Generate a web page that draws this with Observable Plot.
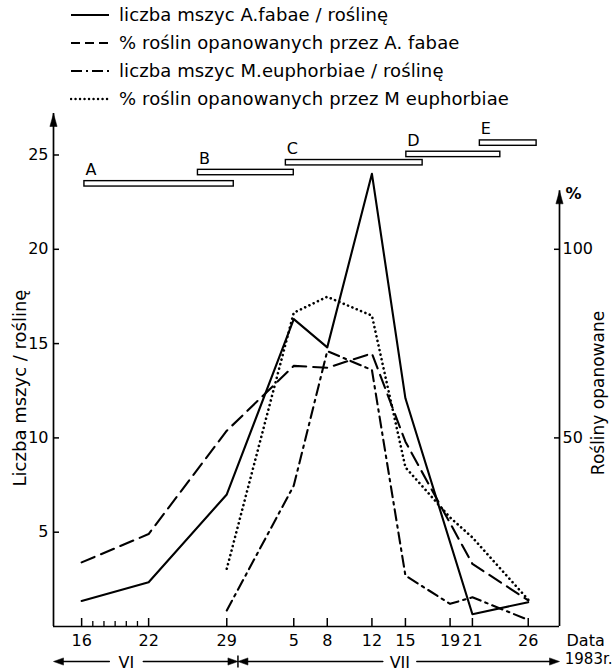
<!DOCTYPE html>
<html>
<head>
<meta charset="utf-8">
<script src="https://cdn.jsdelivr.net/npm/d3@7"></script>
<script src="https://cdn.jsdelivr.net/npm/@observablehq/plot@0.6"></script>
<style>
  html, body { margin: 0; padding: 0; background: #fff; }
  body { width: 615px; font-family: "DejaVu Sans", sans-serif; color: #000; }
  #legend { position: relative; height: 108px; }
  .row { position: absolute; left: 70px; display: flex; align-items: center; font-size: 18px; letter-spacing: 0.1px; white-space: nowrap; }
  .row svg { margin-right: 9px; }
</style>
</head>
<body>
<div id="legend"></div>
<div id="chart"></div>
<script>
// ---------------- data ----------------
const dates = ["1983-06-16","1983-06-22","1983-06-29","1983-07-05","1983-07-08","1983-07-12","1983-07-15","1983-07-19","1983-07-21","1983-07-26"];
const minorTickDates = ["1983-06-17","1983-06-18","1983-06-19","1983-06-20","1983-06-21"];

const seriesNames = [
  "liczba mszyc A.fabae / roślinę",
  "% roślin opanowanych przez A. fabae",
  "liczba mszyc M.euphorbiae / roślinę",
  "% roślin opanowanych przez M euphorbiae"
];
// aphids per plant (left axis)
const fabaeCount = [1.35, 2.35, 7.0, 16.3, 14.8, 24.0, 12.1, null, 0.65, 1.29];
// % infested plants (right axis)
const fabaePct   = [17.0, 24.5, 51.9, 69.1, 68.6, 72.4, 49.0, null, 16.6, 6.9];
const euphCount  = [null, null, 0.85, 7.47, 14.6, 13.6, 2.7, 1.2, 1.55, 0.35];
const euphPct    = [null, null, 15.3, 83.2, 87.4, 82.4, 42.2, 28.9, 23.6, 7.1];

const leftTicks = [5, 10, 15, 20, 25];
const rightTicksPct = [50, 100];

// development stages (bars at the top)
const stageLabels = ["A", "B", "C", "D", "E"];
const stageStart  = ["1983-06-16T06:00Z", "1983-06-26T10:00Z", "1983-07-04T07:00Z", "1983-07-15T02:00Z", "1983-07-21T16:00Z"];
const stageEnd    = ["1983-06-29T15:00Z", "1983-07-05T00:00Z", "1983-07-16T13:00Z", "1983-07-23T12:00Z", "1983-07-26T18:00Z"];
const stageLevel  = [23.47, 24.07, 24.59, 25.03, 25.63];

const monthNames = ["VI", "VII"];
const monthLabelDates = ["1983-06-20", "1983-07-14T12:00Z"];
const monthBoundary = "1983-06-30";

// ---------------- setup ----------------
const PCT_PER_UNIT = 5;       // right axis: 100 % aligned with 20 on the left axis
const DAY = 864e5;
const origin = d3.isoParse(dates[0]);
const xDomain = [new Date(+origin - 2.52 * DAY), new Date(+origin + 42.8 * DAY)];
const yTop = 27.2;
const rightTop = 115.5 / PCT_PER_UNIT;
const font = '"DejaVu Sans", sans-serif';

const seriesValues = [fabaeCount, fabaePct, euphCount, euphPct];
const isPercent = [false, true, false, true];
const styles = [
  {strokeWidth: 2.1},
  {strokeWidth: 2.1, strokeDasharray: "14,7"},
  {strokeWidth: 2.1, strokeDasharray: "11,5,2.5,5"},
  {strokeWidth: 2.6, strokeDasharray: "0.1,4.6", strokeLinecap: "round"}
];
const legendDash = ["", "9,5", "11,4,2,4", "0.1,4.4"];

const rows = [];
seriesValues.forEach((vals, s) => {
  vals.forEach((v, j) => {
    if (v == null) return;
    rows.push({s, date: d3.isoParse(dates[j]), y: isPercent[s] ? v / PCT_PER_UNIT : v});
  });
});

const stages = stageLabels.map((label, i) => ({
  label, start: d3.isoParse(stageStart[i]), end: d3.isoParse(stageEnd[i]), level: stageLevel[i]
}));

const boundary = d3.isoParse(monthBoundary);
const monthEdges = [xDomain[0], boundary, xDomain[1]];
const monthSegs = [];
monthNames.forEach((m, i) => {
  const at = d3.isoParse(monthLabelDates[i]);
  monthSegs.push({from: at, to: monthEdges[i]});
  monthSegs.push({from: at, to: monthEdges[i + 1]});
});
const monthLabels = monthNames.map((m, i) => ({m, at: d3.isoParse(monthLabelDates[i])}));

// custom symbols: filled arrow head with its tip at the origin, pointing up
const headUp = {draw(ctx) { ctx.moveTo(0, 0); ctx.lineTo(3.6, 13); ctx.lineTo(-3.6, 13); ctx.closePath(); }};
const headSmall = {draw(ctx) { ctx.moveTo(0, 0); ctx.lineTo(3.6, 10); ctx.lineTo(-3.6, 10); ctx.closePath(); }};
const vbar = {draw(ctx) { ctx.moveTo(0, -6); ctx.lineTo(0, 6); }};

// ---------------- legend ----------------
const legend = document.getElementById("legend");
const rowCenters = [16, 44, 72, 100];
seriesNames.forEach((name, i) => {
  const div = document.createElement("div");
  div.className = "row";
  div.style.top = (rowCenters[i] - 12) + "px";
  const dash = legendDash[i] ? `stroke-dasharray="${legendDash[i]}"` : "";
  const cap = i === 3 ? `stroke-linecap="round"` : "";
  const sw = i === 3 ? 2.4 : 2;
  div.innerHTML = `<svg width="40" height="10"><line x1="1" y1="5" x2="39" y2="5" stroke="black" stroke-width="${sw}" ${dash} ${cap}/></svg><span>${name}</span>`;
  legend.appendChild(div);
});

// ---------------- chart ----------------
const chart = Plot.plot({
  width: 615,
  height: 564,
  marginLeft: 53,
  marginRight: 56,
  marginTop: 5,
  marginBottom: 46,
  style: {fontFamily: font, fontSize: "16px", color: "black", background: "white", overflow: "visible"},
  x: {type: "utc", domain: xDomain},
  y: {domain: [0, yTop]},
  marks: [
    // frame lines
    Plot.ruleY([0], {strokeWidth: 1.7}),
    Plot.ruleX([xDomain[0]], {strokeWidth: 1.7}),
    Plot.ruleX([xDomain[1]], {y1: 0, y2: rightTop, strokeWidth: 1.7}),
    // axis arrows
    Plot.dot([xDomain[0]], {x: d => d, y: () => yTop, symbol: headUp, fill: "black", stroke: "black", strokeWidth: 0.5}),
    Plot.dot([xDomain[1]], {x: d => d, y: () => rightTop, symbol: headUp, fill: "black", stroke: "black", strokeWidth: 0.5}),
    Plot.text(["%"], {x: () => xDomain[1], y: () => rightTop, dx: 14, dy: 3, fontWeight: "bold", fontSize: 16}),
    // left axis
    Plot.axisY(leftTicks, {anchor: "left", tickSize: -6, tickFormat: () => "", label: null, strokeWidth: 1.5}),
    Plot.axisY(leftTicks, {anchor: "left", tickSize: 0, tickPadding: 5, fontSize: 16, label: null}),
    // right axis
    Plot.axisY(rightTicksPct.map(p => p / PCT_PER_UNIT), {anchor: "right", tickSize: -6, tickFormat: () => "", label: null, strokeWidth: 1.5}),
    Plot.axisY(rightTicksPct.map(p => p / PCT_PER_UNIT), {anchor: "right", tickSize: 0, tickPadding: 3, fontSize: 16, label: null, tickFormat: d => d * PCT_PER_UNIT}),
    // x axis
    Plot.axisX(dates.map(d3.isoParse), {anchor: "bottom", tickSize: -8, tickFormat: () => "", label: null, strokeWidth: 1.5}),
    Plot.axisX(minorTickDates.map(d3.isoParse), {anchor: "bottom", tickSize: -5, tickFormat: () => "", label: null, strokeWidth: 1.3}),
    Plot.axisX(dates.map(d3.isoParse), {anchor: "bottom", tickSize: 0, tickPadding: 8, fontSize: 16, label: null, tickFormat: d3.utcFormat("%-d")}),
    // axis titles
    Plot.text(["Liczba mszyc / roślinę"], {frameAnchor: "left", textAnchor: "middle", rotate: -90, dx: -33, dy: 18, fontSize: 18}),
    Plot.text(["Rośliny opanowane"], {frameAnchor: "right", textAnchor: "middle", rotate: -90, dx: 39, dy: 23, fontSize: 17}),
    Plot.text(["Data"], {frameAnchor: "bottom-right", textAnchor: "start", dx: 7, dy: 19, fontSize: 16}),
    Plot.text(["1983r."], {frameAnchor: "bottom-right", textAnchor: "end", dx: 53, dy: 37, fontSize: 15}),
    // month arrows
    Plot.arrow(monthSegs, {x1: "from", x2: "to", y1: 0, y2: 0, dy: 35, insetStart: 17, insetEnd: 6, headLength: 0, strokeWidth: 1.5}),
    Plot.dot([monthEdges[0], monthEdges[1]], {x: d => d, y: () => 0, dy: 35, symbol: headSmall, rotate: -90, fill: "black", stroke: "black", strokeWidth: 0.5}),
    Plot.dot([monthEdges[1], monthEdges[2]], {x: d => d, y: () => 0, dy: 35, symbol: headSmall, rotate: 90, fill: "black", stroke: "black", strokeWidth: 0.5}),
    Plot.dot([monthEdges[1]], {x: d => d, y: () => 0, dy: 35, symbol: vbar, fill: "none", stroke: "black", strokeWidth: 1.5}),
    Plot.text(monthLabels, {x: "at", y: () => 0, dy: 36, text: "m", fontSize: 16}),
    // stage bars
    Plot.rect(stages, {x1: "start", x2: "end", y1: "level", y2: "level", insetTop: -2.7, insetBottom: -2.7, fill: "white", stroke: "black", strokeWidth: 1.4}),
    Plot.text(stages, {x: "start", y: "level", text: "label", textAnchor: "start", dx: 1, dy: -14, fontSize: 16}),
    // data lines
    ...styles.map((st, i) => Plot.line(rows.filter(r => r.s === i), {x: "date", y: "y", stroke: "black", ...st}))
  ]
});
document.getElementById("chart").appendChild(chart);
</script>
</body>
</html>
